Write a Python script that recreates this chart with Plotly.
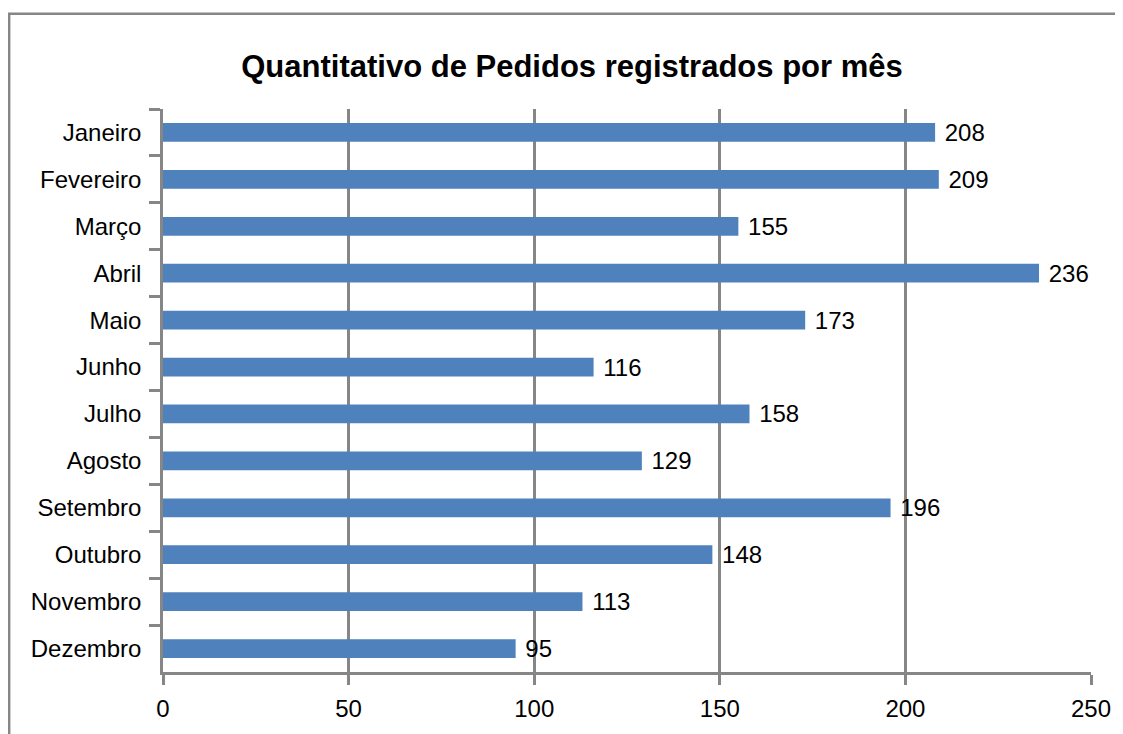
import plotly.graph_objects as go

months = ["Janeiro", "Fevereiro", "Março", "Abril", "Maio", "Junho", "Julho",
          "Agosto", "Setembro", "Outubro", "Novembro", "Dezembro"]
pedidos = [208, 209, 155, 236, 173, 116, 158, 129, 196, 148, 113, 95]
x_ticks = [0, 50, 100, 150, 200, 250]

# page body has an 8px margin; figure coordinates are page coordinates - 8
W, H = 1115, 726
L, R, T, B = 155, 31, 101, 58
pw, ph = W - L - R, H - T - B
FONT = "Liberation Sans, Arial"

fig = go.Figure(go.Bar(
    x=pedidos, y=months, orientation="h",
    marker=dict(color="#4F81BD", line=dict(width=0)),
    width=0.4,
    text=pedidos, texttemplate=" %{x}", textposition="outside",
    constraintext="none",
    textfont=dict(family=FONT, size=24, color="black"),
    cliponaxis=False,
))

grid = "#868686"
fig.update_layout(
    width=W, height=H,
    margin=dict(l=L, r=R, t=T, b=B),
    paper_bgcolor="white", plot_bgcolor="white",
    showlegend=False,
    title=dict(text="<b>Quantitativo de Pedidos registrados por mês</b>",
               x=564 / W, xanchor="center", y=1 - 58 / H, yanchor="middle",
               font=dict(family=FONT, size=31, color="black")),
    xaxis=dict(range=[0, 250], tickvals=x_ticks, showgrid=True, gridcolor=grid,
               gridwidth=2.5, showline=True, linecolor=grid, linewidth=2.5,
               ticks="outside", ticklen=10, tickwidth=2.5, tickcolor=grid,
               zeroline=False, ticklabelstandoff=3,
               tickfont=dict(family=FONT, size=24, color="black")),
    yaxis=dict(autorange="reversed", showline=True, linecolor=grid, linewidth=2.5,
               ticks="outside", tickson="boundaries", ticklen=11, tickwidth=2.5,
               tickcolor=grid, showgrid=False, ticklabelstandoff=14,
               tickfont=dict(family=FONT, size=24, color="black")),
    bargap=0.6,
    shapes=[dict(type="rect", xref="paper", yref="paper",
                 x0=(1 - L) / pw, x1=(1110 - L) / pw,
                 y0=(H - B - 760) / ph, y1=(H - B - 5) / ph,
                 line=dict(color=grid, width=2.5), fillcolor="rgba(0,0,0,0)",
                 layer="below")],
)

fig.write_html("out.html")
